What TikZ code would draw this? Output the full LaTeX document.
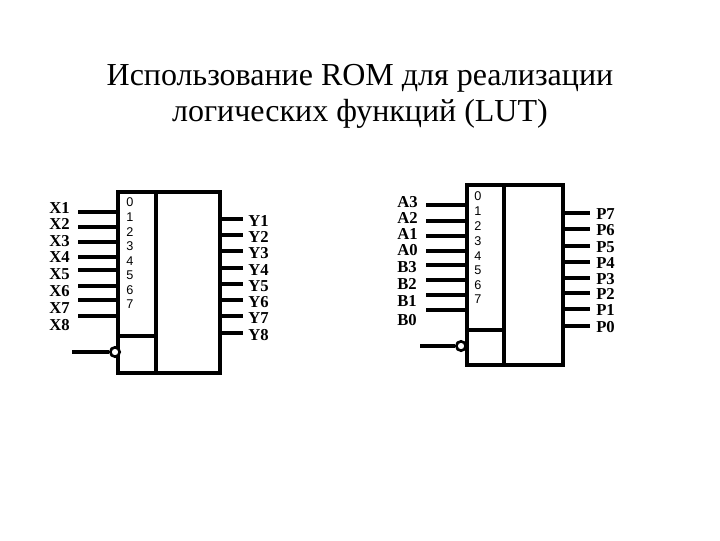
\documentclass[tikz,border=0pt]{standalone}
\usepackage{fontspec}
\setmainfont{Liberation Serif}
\newfontfamily\arialf{Liberation Sans}
\begin{document}
\begin{tikzpicture}[x=0.75pt,y=-0.75pt,
  blk/.style={line width=3pt},
  pin/.style={line width=3pt},
  lab/.style={font=\fontsize{12.5}{13}\selectfont\bfseries,inner sep=0pt},
  num/.style={font=\arialf\fontsize{9.5}{10}\selectfont,inner sep=0pt},
  inv/.style={circle,draw,line width=2pt,fill=white,minimum size=7pt,inner sep=0pt}]
\useasboundingbox (0,0) rectangle (720,540);
\node[font=\fontsize{24}{27}\selectfont,align=center] (title) at (360,96) {Использование ROM для реализации\\логических функций (LUT)};
% left block
\draw[blk] (118,192) rectangle (220,373);
\draw[blk] (156,192) -- (156,373);
\draw[blk] (118,336) -- (156,336);
\foreach \y/\t/\ly/\ny [count=\i from 0] in {212/X1/208/202,227/X2/224/217,242/X3/241/232,257/X4/257/246,270/X5/274/261,286/X6/291/275,300/X7/308/290,316/X8/325/304}{
  \coordinate (li\i) at (78,\y); \coordinate (lb\i) at (118,\y);
  \draw[pin] (li\i) -- (lb\i);
  \node[lab,anchor=west] (lx\i) at (49,\ly) {\t};
  \node[num,anchor=west] (ln\i) at (126,\ny) {\i};
}
\foreach \y/\t [count=\i] in {219/Y1,235/Y2,251/Y3,268/Y4,284/Y5,300/Y6,316/Y7,333/Y8}{
  \coordinate (lo\i) at (220,\y); \coordinate (loe\i) at (243,\y);
  \draw[pin] (lo\i) -- (loe\i);
  \node[lab,anchor=west] (ly\i) at (248,\y+2) {\t};
}
\node[inv] (lc) at (115,352) {};
\coordinate (lcs) at (72,352);
\draw[pin] (lcs) -- (lc);
% right block
\draw[blk] (467,185) rectangle (563,365);
\draw[blk] (504,185) -- (504,365);
\draw[blk] (467,330) -- (504,330);
\foreach \y/\t/\ly/\ny [count=\i from 0] in {205/A3/202/196,221/A2/218/211,236/A1/234/226,251/A0/250/241,265/B3/267/256,280/B2/284/270,295/B1/301/285,310/B0/320/299}{
  \coordinate (ri\i) at (426,\y); \coordinate (rb\i) at (467,\y);
  \draw[pin] (ri\i) -- (rb\i);
  \node[lab,anchor=west] (ra\i) at (397,\ly) {\t};
  \node[num,anchor=west] (rn\i) at (474,\ny) {\i};
}
\foreach \y/\t [count=\i] in {213/P7,229/P6,246/P5,262/P4,278/P3,293/P2,309/P1,326/P0}{
  \coordinate (ro\i) at (563,\y); \coordinate (roe\i) at (590,\y);
  \draw[pin] (ro\i) -- (roe\i);
  \node[lab,anchor=west] (rp\i) at (596,\y+1) {\t};
}
\node[inv] (rc) at (461,346) {};
\coordinate (rcs) at (420,346);
\draw[pin] (rcs) -- (rc);
\end{tikzpicture}
\end{document}
